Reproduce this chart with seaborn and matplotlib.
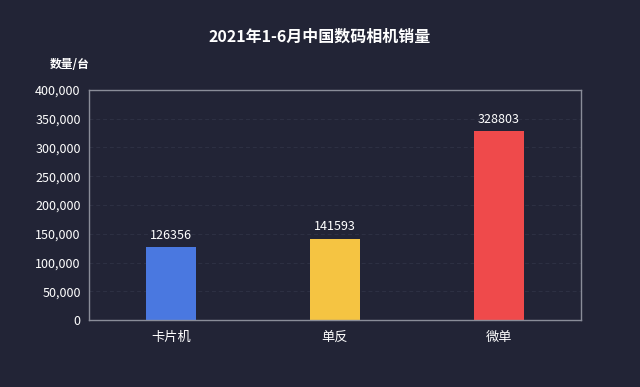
import matplotlib
matplotlib.use("Agg")
import matplotlib.pyplot as plt
import seaborn as sns
import pandas as pd
from matplotlib.ticker import FuncFormatter

categories = ["卡片机", "单反", "微单"]
values = [126356, 141593, 328803]
colors = ["#4a78e0", "#f5c442", "#ef4a4b"]
title = "2021年1-6月中国数码相机销量"
unit_label = "数量/台"

bg = "#222436"
sns.set_theme(style="dark")
plt.rcParams["font.family"] = ["Noto Sans CJK SC", "DejaVu Sans"]

df = pd.DataFrame({"cat": categories, "val": values})

fig = plt.figure(figsize=(6.4, 3.87), dpi=100, facecolor=bg)
ax = fig.add_axes([89/640, 1-320/387, 492/640, 230/387])
ax.set_facecolor(bg)
sns.barplot(data=df, x="cat", y="val", hue="cat", palette=colors, width=0.31,
            legend=False, ax=ax, saturation=1, edgecolor="none")
ax.set_ylim(0, 400000)
ax.set_xlim(-0.5, 2.5)
ax.set_yticks(range(0, 400001, 50000))
ax.yaxis.set_major_formatter(FuncFormatter(lambda v, p: f"{int(v):,}"))
ax.grid(axis="y", color="#2e3144", linestyle=(0, (4, 3)), linewidth=0.7)
ax.grid(axis="x", visible=False)
ax.set_axisbelow(True)
for s in ax.spines.values():
    s.set_visible(True)
    s.set_color("#8a8d99")
    s.set_linewidth(1.0)
ax.tick_params(axis="both", colors="white", labelsize=9, length=0)
ax.tick_params(axis="x", labelsize=9.5, pad=8)
ax.tick_params(axis="y", pad=6)
ax.set_xlabel("")
ax.set_ylabel("")
for i, v in enumerate(values):
    ax.text(i, v + 9000, str(v), ha="center", va="bottom", color="white", fontsize=9)

fig.text(0.5, 1-37/387, title, ha="center", va="center", color="white",
         fontsize=11.5, fontweight="bold")
fig.text(70/640, 1-64/387, unit_label, ha="center", va="center", color="white",
         fontsize=8.5, fontweight="bold")

fig.savefig("out.png", dpi=100, facecolor=bg)
